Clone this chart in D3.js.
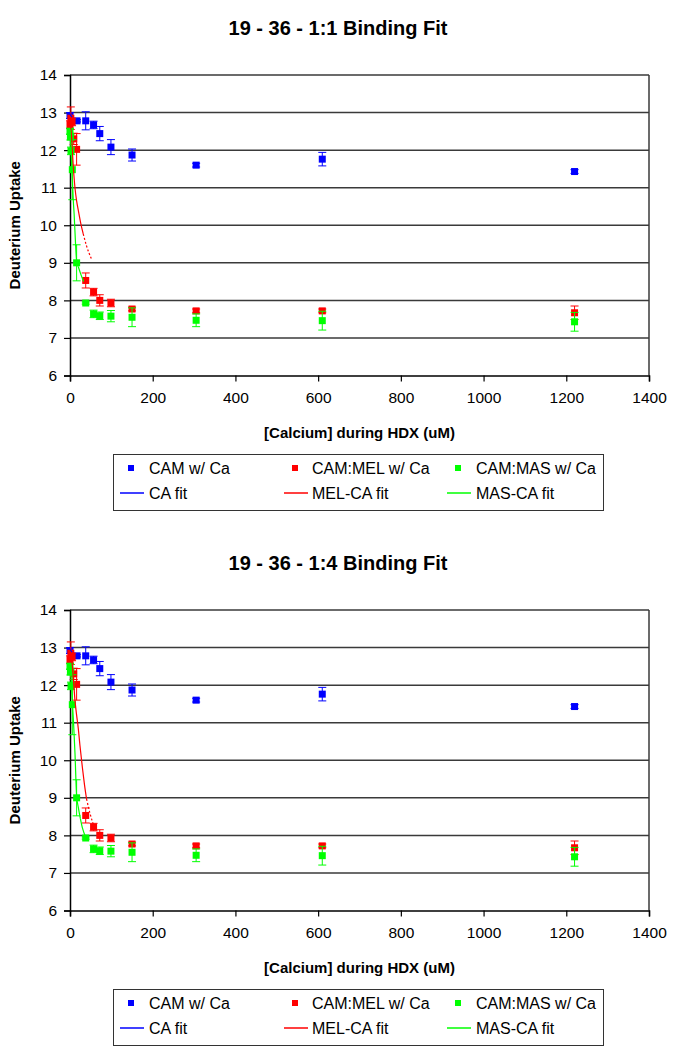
<!DOCTYPE html>
<html>
<head>
<meta charset="utf-8">
<script src="https://cdn.jsdelivr.net/npm/d3@7"></script>
<style>
  html, body { margin: 0; padding: 0; background: #fff; }
  svg { display: block; font-family: "Liberation Sans", Arial, sans-serif; }
</style>
</head>
<body>
<svg id="chart" width="675" height="1050"></svg>
<script>
// ---------------- DATA ----------------
const chartTitles = ["19 - 36 - 1:1 Binding Fit", "19 - 36 - 1:4 Binding Fit"];
const xTicks = [0, 200, 400, 600, 800, 1000, 1200, 1400];
const yTicks = [6, 7, 8, 9, 10, 11, 12, 13, 14];
const seriesNames = ["CAM w/ Ca", "CAM:MEL w/ Ca", "CAM:MAS w/ Ca"];
const fitNames = ["CA fit", "MEL-CA fit", "MAS-CA fit"];

// CAM w/ Ca
const camX   = [0, 17, 38, 57, 72, 99, 150, 305, 610, 1220];
const camY   = [12.92, 12.78, 12.78, 12.67, 12.44, 12.08, 11.87, 11.60, 11.76, 11.43];
const camErr = [0.08, 0.03, 0.24, 0.10, 0.19, 0.20, 0.16, 0.05, 0.18, 0.05];

// CAM:MEL w/ Ca
const melX   = [0, 2, 5, 9, 16, 38, 57, 72, 99, 150, 305, 610, 1220];
const melY   = [12.68, 12.85, 12.75, 12.30, 12.02, 8.53, 8.22, 8.00, 7.93, 7.77, 7.72, 7.72, 7.67];
const melErr = [0.10, 0.30, 0.10, 0.15, 0.42, 0.20, 0.10, 0.15, 0.10, 0.05, 0.05, 0.05, 0.18];

// CAM:MAS w/ Ca
const masX   = [0, 1, 2.4, 5.6, 16, 38, 57, 72, 99, 150, 305, 610, 1220];
const masY   = [12.50, 12.35, 11.98, 11.48, 9.00, 7.93, 7.64, 7.59, 7.58, 7.55, 7.47, 7.46, 7.43];
const masErr = [0.08, 0.08, 0.10, 0.80, 0.48, 0.03, 0.10, 0.10, 0.15, 0.25, 0.17, 0.25, 0.25];

// Fits
const caFitX  = [0, 5, 10];
const caFitY  = [12.95, 12.88, 12.82];

const melFit1X = [0, 4, 8, 12, 16, 20, 26, 32, 40, 52];
const melFit1Y = [12.85, 12.30, 11.55, 11.00, 10.65, 10.40, 10.05, 9.77, 9.45, 9.10];
const masFit1X = [0, 2, 4, 6, 8, 10, 13, 16, 20, 26, 33];
const masFit1Y = [12.55, 12.10, 11.60, 11.15, 10.65, 10.30, 9.60, 9.05, 8.90, 8.70, 8.50];

const melFit4X = [0, 5, 8, 12, 16, 20, 24, 30, 35, 40, 48, 56];
const melFit4Y = [12.90, 12.60, 12.20, 11.60, 11.20, 10.85, 10.40, 9.80, 9.35, 8.97, 8.60, 8.30];
const masFit4X = [0, 3, 6, 9, 12, 16, 20, 25, 30, 38];
const masFit4Y = [12.55, 12.10, 11.50, 10.90, 10.20, 9.05, 8.75, 8.45, 8.20, 7.95];

// ---------------- DRAW ----------------
const colors = ["#0000FF", "#FF0000", "#00FF00"];
const svg = d3.select("#chart");

function zip(xs, ys, es) { return xs.map((x, i) => ({x: x, y: ys[i], e: es ? es[i] : 0})); }

function drawChart(offsetY, title, melFX, melFY, masFX, masFY) {
  const g = svg.append("g").attr("transform", `translate(0,${offsetY})`);
  const left = 70, right = 649, top = 75, bottom = 375.5;
  const x = d3.scaleLinear().domain([0, 1400]).range([left, right]);
  const y = d3.scaleLinear().domain([6, 14]).range([bottom, top]);

  g.append("text").attr("x", 338).attr("y", 35).attr("text-anchor", "middle")
    .attr("font-size", 20).attr("font-weight", "bold").attr("fill", "#000").text(title);

  // gridlines
  g.append("g").selectAll("line").data(yTicks.filter(t => t > 6)).join("line")
    .attr("x1", left).attr("x2", right).attr("y1", d => y(d)).attr("y2", d => y(d))
    .attr("stroke", "#3a3a3a").attr("stroke-width", 1.5);
  // right border
  g.append("line").attr("x1", right).attr("x2", right).attr("y1", top).attr("y2", bottom)
    .attr("stroke", "#3a3a3a").attr("stroke-width", 1.5);

  // axes
  const yAxis = d3.axisLeft(y).tickValues(yTicks).tickSize(6).tickPadding(7).tickFormat(d3.format("d"));
  const ya = g.append("g").attr("transform", `translate(${left},0)`).call(yAxis);
  const xAxis = d3.axisBottom(x).tickValues(xTicks).tickSize(6).tickPadding(10).tickFormat(d3.format("d"));
  const xa = g.append("g").attr("transform", `translate(0,${bottom})`).call(xAxis);
  [ya, xa].forEach(a => {
    a.select(".domain").attr("stroke", "#000").attr("stroke-width", 1.5);
    a.selectAll(".tick line").attr("stroke", "#000").attr("stroke-width", 1.2);
    a.selectAll(".tick text").attr("font-size", 15.5).attr("fill", "#000")
      .attr("font-family", "Liberation Sans, Arial, sans-serif");
  });

  g.append("text").attr("transform", `translate(20,${(top + bottom) / 2}) rotate(-90)`)
    .attr("text-anchor", "middle").attr("font-size", 15).attr("font-weight", "bold").text("Deuterium Uptake");
  g.append("text").attr("x", (left + right) / 2).attr("y", 438).attr("text-anchor", "middle")
    .attr("font-size", 15).attr("font-weight", "bold").text("[Calcium] during HDX (uM)");

  // points with error bars
  const sets = [zip(camX, camY, camErr), zip(melX, melY, melErr), zip(masX, masY, masErr)];
  sets.forEach((data, si) => {
    const s = g.append("g");
    const c = colors[si];
    s.selectAll("line.v").data(data).join("line").attr("class", "v")
      .attr("x1", d => x(d.x)).attr("x2", d => x(d.x))
      .attr("y1", d => y(d.y + d.e)).attr("y2", d => y(d.y - d.e))
      .attr("stroke", c).attr("stroke-width", 1);
    s.selectAll("line.t").data(data).join("line").attr("class", "t")
      .attr("x1", d => x(d.x) - 4).attr("x2", d => x(d.x) + 4)
      .attr("y1", d => y(d.y + d.e)).attr("y2", d => y(d.y + d.e))
      .attr("stroke", c).attr("stroke-width", 1);
    s.selectAll("line.b").data(data).join("line").attr("class", "b")
      .attr("x1", d => x(d.x) - 4).attr("x2", d => x(d.x) + 4)
      .attr("y1", d => y(d.y - d.e)).attr("y2", d => y(d.y - d.e))
      .attr("stroke", c).attr("stroke-width", 1);
    s.selectAll("rect").data(data).join("rect")
      .attr("x", d => x(d.x) - 3.5).attr("y", d => y(d.y) - 3.5)
      .attr("width", 7).attr("height", 7).attr("fill", c);
  });

  // fit lines
  const line = d3.line().x(d => x(d.x)).y(d => y(d.y)).curve(d3.curveMonotoneX);
  const fits = [zip(caFitX, caFitY), zip(melFX, melFY), zip(masFX, masFY)];
  fits.forEach((f, i) => {
    const n = f.length;
    // solid main part, thin dotted tail (as in the reference rendering)
    g.append("path").datum(f.slice(0, Math.max(2, n - 2))).attr("d", line).attr("fill", "none")
      .attr("stroke", colors[i]).attr("stroke-width", 1.2);
    if (n > 3) {
      g.append("path").datum(f.slice(n - 3)).attr("d", line).attr("fill", "none")
        .attr("stroke", colors[i]).attr("stroke-width", 1.2)
        .attr("stroke-dasharray", i === 1 ? "2,2" : null);
    }
  });

  // legend
  const lg = g.append("g");
  lg.append("rect").attr("x", 113.5).attr("y", 454.5).attr("width", 490).attr("height", 56)
    .attr("fill", "#fff").attr("stroke", "#333").attr("stroke-width", 1);
  const colX = [131, 295, 458];
  const textX = [149, 312, 476];
  colX.forEach((cx, i) => {
    lg.append("rect").attr("x", cx - 3).attr("y", 468 - 3).attr("width", 6).attr("height", 6).attr("fill", colors[i]);
    lg.append("text").attr("x", textX[i]).attr("y", 474).attr("font-size", 16).text(seriesNames[i]);
    lg.append("line").attr("x1", cx - 11).attr("x2", cx + 13).attr("y1", 493).attr("y2", 493)
      .attr("stroke", colors[i]).attr("stroke-width", 1.5);
    lg.append("text").attr("x", textX[i]).attr("y", 499).attr("font-size", 16).text(fitNames[i]);
  });
}

drawChart(0, chartTitles[0], melFit1X, melFit1Y, masFit1X, masFit1Y);
drawChart(535, chartTitles[1], melFit4X, melFit4Y, masFit4X, masFit4Y);
</script>
</body>
</html>
